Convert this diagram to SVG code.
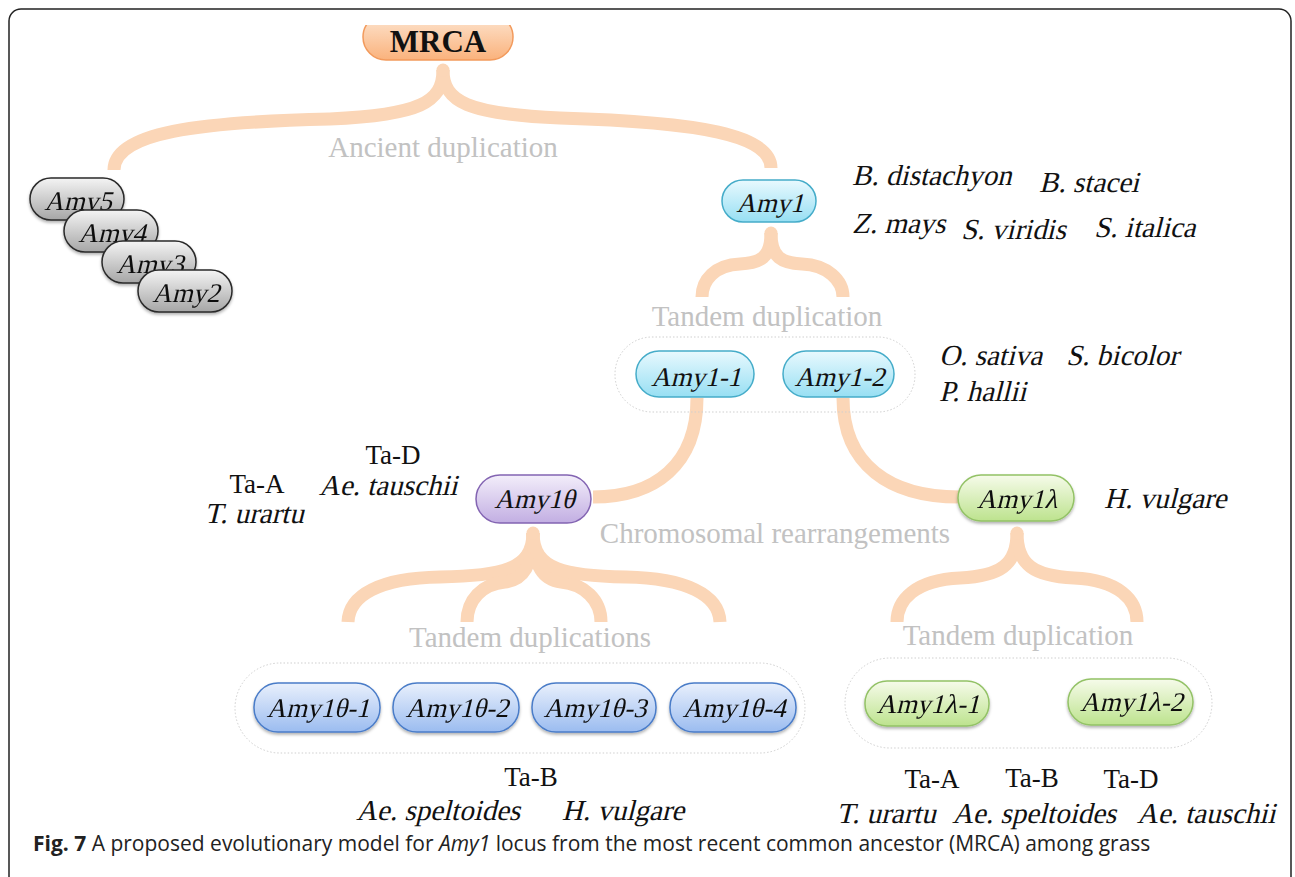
<svg xmlns="http://www.w3.org/2000/svg" width="1295" height="877" viewBox="0 0 1295 877">
<defs>
<linearGradient id="gOrange" x1="0" y1="0" x2="0" y2="1"><stop offset="0" stop-color="#fde6d2"/><stop offset="1" stop-color="#fab27c"/></linearGradient>
<linearGradient id="gGray" x1="0" y1="0" x2="0" y2="1"><stop offset="0" stop-color="#f4f4f4"/><stop offset="1" stop-color="#a6a6a6"/></linearGradient>
<linearGradient id="gCyan" x1="0" y1="0" x2="0" y2="1"><stop offset="0" stop-color="#e8f9fe"/><stop offset="1" stop-color="#97dff3"/></linearGradient>
<linearGradient id="gPurple" x1="0" y1="0" x2="0" y2="1"><stop offset="0" stop-color="#f3eefa"/><stop offset="1" stop-color="#c2aee2"/></linearGradient>
<linearGradient id="gGreen" x1="0" y1="0" x2="0" y2="1"><stop offset="0" stop-color="#f6fbea"/><stop offset="1" stop-color="#bde38e"/></linearGradient>
<linearGradient id="gBlue" x1="0" y1="0" x2="0" y2="1"><stop offset="0" stop-color="#e9f0fc"/><stop offset="1" stop-color="#9bbcf0"/></linearGradient>
<filter id="sh" x="-10%" y="-20%" width="120%" height="150%"><feDropShadow dx="0" dy="2" stdDeviation="1.5" flood-color="#000" flood-opacity="0.3"/></filter>
<clipPath id="topclip"><rect x="300" y="25" width="260" height="60"/></clipPath>
</defs>
<style>
.frame{fill:#fff;stroke:#222;stroke-width:1.5}
.conn{fill:none;stroke:#fbd6b7;stroke-width:13;stroke-linecap:butt}
.dot{fill:#fbd6b7}
.box{fill:none;stroke:#cfcfcf;stroke-width:1;stroke-dasharray:1.5 2}
.lbl{font-family:"Liberation Serif",serif;font-size:29px;fill:#c2c2c2;text-anchor:middle}
.nt{font-family:"Liberation Serif",serif;font-size:27px;fill:#111;text-anchor:middle}
.sp{font-family:"Liberation Serif",serif;font-size:29px;fill:#111}
.ta{font-family:"Liberation Serif",serif;font-size:27px;fill:#111;text-anchor:middle}
.mid{text-anchor:middle}
.gray{fill:url(#gGray);stroke:#2a2a2a;stroke-width:1.5}
.cyan{fill:url(#gCyan);stroke:#45acc9;stroke-width:1.5}
.purple{fill:url(#gPurple);stroke:#8364b2;stroke-width:1.5}
.green{fill:url(#gGreen);stroke:#93c266;stroke-width:1.5}
.blue{fill:url(#gBlue);stroke:#4a7cc8;stroke-width:1.5}
.cap{font-family:"Open Sans",sans-serif;font-size:21px;fill:#222}
</style>
<rect class="frame" x="9" y="9" width="1282" height="880" rx="12"/>

<g id="connectors">
<path class="conn" d="M443,70 C443,102 420,115 330,119 C200,122 114,132 114,170"/>
<path class="conn" d="M443,70 C443,102 468,114 560,118 C700,122 771,135 771,168"/>
<circle class="dot" cx="443" cy="70" r="6.5"/>
<path class="conn" d="M771,233 C771,258 760,263 740,264 C715,265 702,280 702,297"/>
<path class="conn" d="M771,233 C771,258 782,263 802,264 C827,265 843,280 843,297"/>
<circle class="dot" cx="771" cy="233" r="6.5"/>
<path class="conn" d="M697,398 C697,465 655,497 593,497"/>
<path class="conn" d="M843,398 C843,465 890,497 959,497"/>
<path class="conn" d="M533,533 C533,570 500,576 440,577 C380,578 349,595 348,622"/>
<path class="conn" d="M533,533 C533,568 522,580 505,582 C482,584 467,600 467,622"/>
<path class="conn" d="M533,533 C533,568 544,580 561,582 C584,584 601,600 601,622"/>
<path class="conn" d="M533,533 C533,570 566,576 626,577 C686,578 719,595 720,622"/>
<circle class="dot" cx="533" cy="533" r="6.5"/>
<path class="conn" d="M1017,533 C1017,565 1000,576 960,578 C915,580 897,600 897,622"/>
<path class="conn" d="M1017,533 C1017,565 1034,576 1074,578 C1119,580 1137,600 1137,622"/>
<circle class="dot" cx="1017" cy="533" r="6.5"/>
</g>

<g id="labels">
<text class="lbl" x="443" y="157">Ancient duplication</text>
<text class="lbl" x="767" y="326">Tandem duplication</text>
<text class="lbl" x="775" y="543">Chromosomal rearrangements</text>
<text class="lbl" x="530" y="647">Tandem duplications</text>
<text class="lbl" x="1018" y="645">Tandem duplication</text>
</g>

<g id="groups">
<rect class="box" x="615" y="337" width="300" height="75" rx="37"/>
<rect class="box" x="235" y="663" width="570" height="90" rx="45"/>
<rect class="box" x="845" y="658" width="367" height="90" rx="45"/>
</g>

<g id="MRCA">
<rect x="363" y="14" width="150" height="46" rx="23" fill="url(#gOrange)" stroke="#f29a5c" stroke-width="1.5" clip-path="url(#topclip)"/>
<text x="438" y="52" font-family="Liberation Serif,serif" font-weight="bold" font-size="31" fill="#111" text-anchor="middle">MRCA</text>
</g>
<g id="Amy5" filter="url(#sh)"><rect class="gray" x="30" y="178" width="94" height="42" rx="21"/><text class="nt" transform="translate(78,210) skewX(-14)">Amy5</text></g>
<g id="Amy4" filter="url(#sh)"><rect class="gray" x="64" y="210" width="94" height="42" rx="21"/><text class="nt" transform="translate(112,242) skewX(-14)">Amy4</text></g>
<g id="Amy3" filter="url(#sh)"><rect class="gray" x="102" y="241" width="94" height="42" rx="21"/><text class="nt" transform="translate(150,273) skewX(-14)">Amy3</text></g>
<g id="Amy2" filter="url(#sh)"><rect class="gray" x="138" y="270" width="94" height="42" rx="21"/><text class="nt" transform="translate(186,302) skewX(-14)">Amy2</text></g>

<g id="Amy1"><rect class="cyan" x="722" y="180" width="94" height="42" rx="21"/><text class="nt" transform="translate(770,212) skewX(-14)">Amy1</text></g>
<g id="Amy1-1"><rect class="cyan" x="636" y="351" width="118" height="46" rx="23"/><text class="nt" transform="translate(696,386) skewX(-14)">Amy1-1</text></g>
<g id="Amy1-2"><rect class="cyan" x="783" y="351" width="111" height="46" rx="23"/><text class="nt" transform="translate(839.5,386) skewX(-14)">Amy1-2</text></g>
<g id="Amy1theta"><rect class="purple" x="476" y="475" width="115" height="48" rx="24"/><text class="nt" transform="translate(534.5,508) skewX(-14)">Amy1θ</text></g>
<g id="Amy1lambda" filter="url(#sh)"><rect class="green" x="958" y="475" width="116" height="46" rx="23"/><text class="nt" transform="translate(1017,508) skewX(-14)">Amy1λ</text></g>
<g id="Amy1theta-1" filter="url(#sh)"><rect class="blue" x="254" y="683" width="126" height="49" rx="24"/><text class="nt" transform="translate(318,717) skewX(-14)">Amy1θ-1</text></g>
<g id="Amy1theta-2" filter="url(#sh)"><rect class="blue" x="393" y="683" width="126" height="49" rx="24"/><text class="nt" transform="translate(457,717) skewX(-14)">Amy1θ-2</text></g>
<g id="Amy1theta-3" filter="url(#sh)"><rect class="blue" x="532" y="683" width="124" height="49" rx="24"/><text class="nt" transform="translate(595,717) skewX(-14)">Amy1θ-3</text></g>
<g id="Amy1theta-4" filter="url(#sh)"><rect class="blue" x="670" y="683" width="126" height="49" rx="24"/><text class="nt" transform="translate(734,717) skewX(-14)">Amy1θ-4</text></g>
<g id="Amy1lambda-1" filter="url(#sh)"><rect class="green" x="865" y="681" width="124" height="45" rx="22"/><text class="nt" transform="translate(928,713) skewX(-14)">Amy1λ-1</text></g>
<g id="Amy1lambda-2" filter="url(#sh)"><rect class="green" x="1068" y="679" width="125" height="46" rx="23"/><text class="nt" transform="translate(1131.5,711) skewX(-14)">Amy1λ-2</text></g>

<g id="species">
<text class="sp" transform="translate(852,185) skewX(-14)">B. distachyon</text>
<text class="sp" transform="translate(1039,192) skewX(-14)">B. stacei</text>
<text class="sp" transform="translate(852,233) skewX(-14)">Z. mays</text>
<text class="sp" transform="translate(961,239) skewX(-14)">S. viridis</text>
<text class="sp" transform="translate(1094,237) skewX(-14)">S. italica</text>
<text class="sp" transform="translate(939,365) skewX(-14)">O. sativa</text>
<text class="sp" transform="translate(1066,365) skewX(-14)">S. bicolor</text>
<text class="sp" transform="translate(939,401) skewX(-14)">P. hallii</text>
<text class="ta" x="393" y="464">Ta-D</text>
<text class="sp mid" transform="translate(388,495) skewX(-14)">Ae. tauschii</text>
<text class="ta" x="257" y="493">Ta-A</text>
<text class="sp mid" transform="translate(254,523) skewX(-14)">T. urartu</text>
<text class="sp" transform="translate(1104,508) skewX(-14)">H. vulgare</text>
<text class="ta" x="531" y="786">Ta-B</text>
<text class="sp mid" transform="translate(438,820) skewX(-14)">Ae. speltoides</text>
<text class="sp mid" transform="translate(623,820) skewX(-14)">H. vulgare</text>
<text class="ta" x="932" y="788">Ta-A</text>
<text class="ta" x="1032" y="787">Ta-B</text>
<text class="ta" x="1131" y="788">Ta-D</text>
<text class="sp mid" transform="translate(886,823) skewX(-14)">T. urartu</text>
<text class="sp mid" transform="translate(1034,823) skewX(-14)">Ae. speltoides</text>
<text class="sp mid" transform="translate(1206,823) skewX(-14)">Ae. tauschii</text>
</g>

<text class="cap" x="33" y="851"><tspan font-weight="bold">Fig. 7</tspan> A proposed evolutionary model for <tspan font-style="italic">Amy1</tspan> locus from the most recent common ancestor (MRCA) among grass</text>
</svg>
